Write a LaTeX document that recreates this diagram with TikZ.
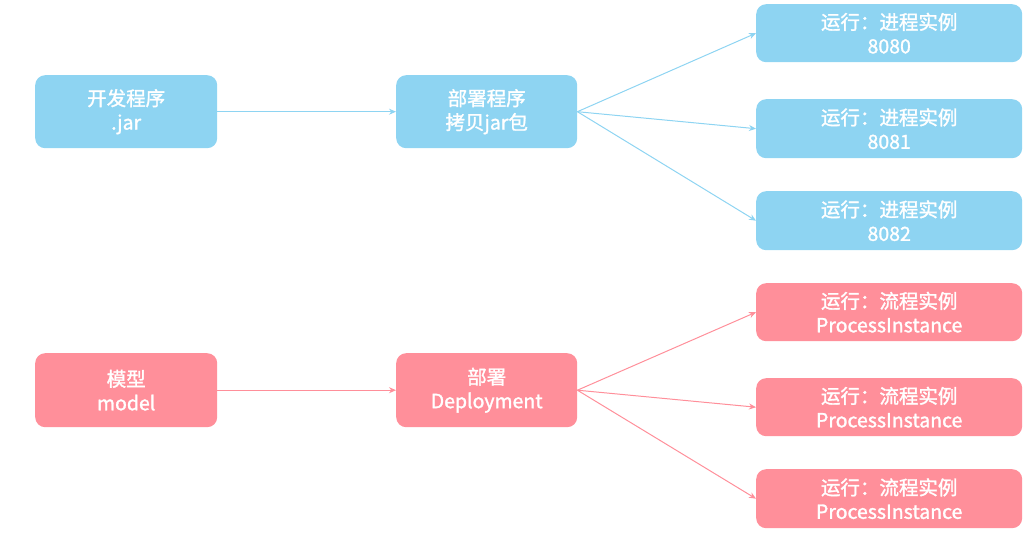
\documentclass[tikz,border=0pt]{standalone}
\usepackage{fontspec}
\setmainfont[FakeBold=1.5,AutoFakeBold=1.5]{Noto Sans CJK SC}
\usetikzlibrary{arrows.meta}
\definecolor{bl}{HTML}{8ED4F2}
\definecolor{rd}{HTML}{FF8F9A}
\tikzset{
  box/.style={rounded corners=10pt, text=white, align=center, inner sep=0pt, font=\fontsize{19.5}{24}\selectfont\bfseries, anchor=north west},
  bbox/.style={box, fill=bl},
  rbox/.style={box, fill=rd},
  barr/.style={draw=bl, line width=1pt, -{Stealth[length=7pt,width=6pt]}},
  rarr/.style={draw=rd, line width=1pt, -{Stealth[length=7pt,width=6pt]}},
}
\begin{document}
\begin{tikzpicture}[x=1pt,y=-1pt]
\useasboundingbox (0,0) rectangle (1034,535);
% blue
\node[bbox, minimum width=182pt, minimum height=73pt] (b1) at (35,75) {开发程序\\.jar};
\node[bbox, minimum width=181pt, minimum height=73pt] (b2) at (396,75) {部署程序\\拷贝jar包};
\node[bbox, minimum width=266pt, minimum height=58pt] (b3) at (756,4) {运行：进程实例\\8080};
\node[bbox, minimum width=266pt, minimum height=59pt] (b4) at (756,99) {运行：进程实例\\8081};
\node[bbox, minimum width=266pt, minimum height=59pt] (b5) at (756,191) {运行：进程实例\\8082};
\draw[barr] (b1.east) -- (b2.west);
\draw[barr] (b2.east) -- (b3.west);
\draw[barr] (b2.east) -- (b4.west);
\draw[barr] (b2.east) -- (b5.west);
% red
\node[rbox, minimum width=182pt, minimum height=74pt] (r1) at (35,353) {模型\\model};
\node[rbox, minimum width=181pt, minimum height=74pt] (r2) at (396,353) {部署\\Deployment};
\node[rbox, minimum width=266pt, minimum height=58pt] (r3) at (756,283) {运行：流程实例\\ProcessInstance};
\node[rbox, minimum width=266pt, minimum height=58pt] (r4) at (756,378) {运行：流程实例\\ProcessInstance};
\node[rbox, minimum width=266pt, minimum height=59pt] (r5) at (756,469) {运行：流程实例\\ProcessInstance};
\draw[rarr] (r1.east) -- (r2.west);
\draw[rarr] (r2.east) -- (r3.west);
\draw[rarr] (r2.east) -- (r4.west);
\draw[rarr] (r2.east) -- (r5.west);
\end{tikzpicture}
\end{document}
